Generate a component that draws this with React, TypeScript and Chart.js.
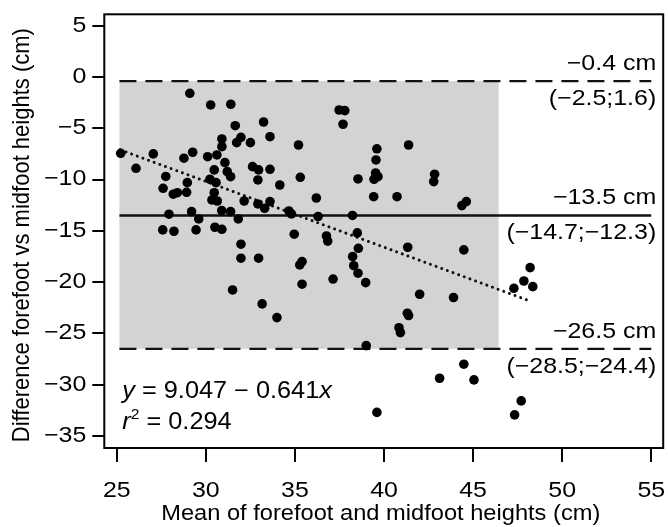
import React, { useEffect, useRef } from "react";
import { Chart, registerables } from "chart.js";

Chart.register(...registerables);

// ---- data ----
const meanX = [
  25.22, 26.08, 27.05, 27.75, 27.6, 28.17, 28.4, 28.92, 28.96, 28.77,
  29.26, 29.1, 30.27, 31.4, 31.65, 30.9, 31.97, 31.73, 30.9, 30.62,
  30.1, 32.5, 33.24, 33.6, 35.2, 31.07, 31.2, 31.39, 30.47, 30.23,
  30.57, 30.47, 30.34, 30.64, 32.62, 32.96, 32.92, 33.6, 34.15, 35.3,
  32.15, 32.92, 33.3, 33.6, 34.66, 34.8, 36.2, 36.3, 38.23, 38.54,
  37.48, 37.8, 37.7, 39.6, 39.55, 39.53, 39.66, 39.44, 39.42, 27.93,
  29.2, 29.6, 30.89, 31.39, 31.82, 27.58, 28.21, 29.45, 30.51, 30.9,
  31.97, 31.97, 32.96, 31.5, 33.16, 33.99, 34.96, 35.4, 35.27, 35.4,
  36.77, 36.84, 37.14, 38.5, 38.56, 38.24, 38.3, 38.54, 38.97, 39.0,
  39.6, 40.73, 41.38, 42.84, 42.79, 44.37, 44.62, 41.33, 44.48, 42.0,
  43.9, 41.31, 41.38, 40.84, 40.92, 44.48, 43.12, 45.05, 47.7, 47.33,
  47.29, 47.85, 48.2, 48.35,
];
const diffY = [
  -7.44, -8.9, -7.5, -9.7, -10.85, -11.43, -11.28, -11.24, -10.3, -7.92,
  -7.34, -1.59, -2.73, -2.66, -4.75, -6.04, -5.88, -6.4, -6.8, -7.6,
  -7.77, -6.4, -4.39, -5.82, -6.63, -8.35, -9.23, -9.72, -9.06, -9.97,
  -10.3, -11.28, -11.99, -12.09, -8.74, -9.06, -10.04, -9.0, -10.53, -9.78,
  -12.09, -12.38, -12.8, -12.15, -13.06, -13.35, -11.8, -13.6, -13.5, -9.94,
  -3.22, -3.28, -4.61, -7.0, -8.09, -9.36, -9.72, -9.97, -11.67, -13.38,
  -13.13, -13.84, -13.03, -13.13, -13.84, -14.91, -15.04, -14.91, -14.65, -14.85,
  -16.3, -17.67, -17.67, -20.76, -22.12, -23.46, -15.33, -18.0, -18.32, -20.2,
  -15.5, -16.0, -19.7, -15.2, -16.7, -17.51, -18.4, -19.13, -20.05, -26.19,
  -32.7, -11.67, -6.63, -9.48, -10.2, -12.54, -12.15, -16.6, -16.86, -21.18,
  -21.5, -23.03, -23.26, -24.44, -24.92, -28.0, -29.37, -29.53, -31.58, -32.94,
  -20.6, -19.89, -18.59, -20.44,
];

const limitValues = [-0.4, -13.5, -26.5]; // upper LoA, mean bias, lower LoA
const limitLabels = ["\u22120.4 cm", "\u221213.5 cm", "\u221226.5 cm"];
const ciLabels = ["(\u22122.5;1.6)", "(\u221214.7;\u221212.3)", "(\u221228.5;\u221224.4)"];
const bandRange = [25.15, 46.43];
const lineRange = [25.15, 55];
const regIntercept = 9.047;
const regSlope = -0.641;
const regRange = [25.2, 48.3];
const xTicks = [25, 30, 35, 40, 45, 50, 55];
const yTicks = [5, 0, -5, -10, -15, -20, -25, -30, -35];
const xRange = [24.3, 55.67];
const yRange = [-36.17, 6.11];
const xTitle = "Mean of forefoot and midfoot heights (cm)";
const yTitle = "Difference forefoot vs midfoot heights (cm)";

const FONT = '"Liberation Sans", Arial, Helvetica, sans-serif';
const FS = 21.5;
const SX = 1.16;

function fmt(v: number) {
  return v < 0 ? "\u2212" + Math.abs(v) : String(v);
}

function sText(ctx: CanvasRenderingContext2D, text: string, x: number, y: number, align: CanvasTextAlign, size: number, sx: number, italic = false) {
  ctx.save();
  ctx.translate(x, y);
  ctx.scale(sx, 1);
  ctx.font = `${italic ? "italic " : ""}${size}px ${FONT}`;
  ctx.textAlign = align;
  ctx.textBaseline = "middle";
  ctx.fillStyle = "#000";
  ctx.fillText(text, 0, 0);
  ctx.restore();
}

function segText(ctx: CanvasRenderingContext2D, segs: { t: string; it?: boolean; sup?: boolean }[], x: number, y: number, size: number, sx: number) {
  let cx = x;
  for (const s of segs) {
    const sz = s.sup ? size * 0.62 : size;
    const yy = s.sup ? y - size * 0.33 : y;
    ctx.save();
    ctx.font = `${s.it ? "italic " : ""}${sz}px ${FONT}`;
    const w = ctx.measureText(s.t).width * sx;
    ctx.restore();
    sText(ctx, s.t, cx, yy, "left", sz, sx, !!s.it);
    cx += w;
  }
}

const bandPlugin = {
  id: "band",
  beforeDatasetsDraw(chart: any) {
    const { ctx, scales } = chart;
    const x = scales.x, y = scales.y;
    const l = x.getPixelForValue(bandRange[0]);
    const r = x.getPixelForValue(bandRange[1]);
    const t = y.getPixelForValue(limitValues[0]);
    const b = y.getPixelForValue(limitValues[2]);
    ctx.save();
    ctx.fillStyle = "#d3d3d3";
    ctx.fillRect(l, t, r - l, b - t);
    ctx.restore();
  },
};

const textPlugin = {
  id: "texts",
  afterDraw(chart: any) {
    const { ctx, scales, chartArea } = chart;
    const x = scales.x, y = scales.y;
    ctx.save();
    // frame
    ctx.strokeStyle = "#000";
    ctx.lineWidth = 2;
    ctx.strokeRect(chartArea.left, chartArea.top, chartArea.right - chartArea.left, chartArea.bottom - chartArea.top);
    // tick labels
    for (const v of yTicks) {
      sText(ctx, fmt(v), chartArea.left - 18, y.getPixelForValue(v), "right", FS, SX);
    }
    for (const v of xTicks) {
      sText(ctx, fmt(v), x.getPixelForValue(v), chartArea.bottom + 43, "center", FS, SX);
    }
    // axis titles
    sText(ctx, xTitle, (chartArea.left + chartArea.right) / 2 - 3, chartArea.bottom + 66, "center", 21.5, 1.1);
    ctx.save();
    ctx.translate(22, (chartArea.top + chartArea.bottom) / 2 + 4);
    ctx.rotate(-Math.PI / 2);
    ctx.scale(1, 1.08);
    ctx.font = `22px ${FONT}`;
    ctx.textAlign = "center";
    ctx.textBaseline = "middle";
    ctx.fillStyle = "#000";
    ctx.fillText(yTitle, 0, 0);
    ctx.restore();
    // limit labels
    const rx = chartArea.right - 7;
    limitValues.forEach((v, i) => {
      const py = y.getPixelForValue(v);
      sText(ctx, limitLabels[i], rx, py - 17, "right", FS, SX);
      sText(ctx, ciLabels[i], rx, py + 18, "right", FS, SX);
    });
    // regression equation
    const ex = chartArea.left + 18;
    segText(ctx, [{ t: "y", it: true }, { t: " = 9.047 \u2212 0.641" }, { t: "x", it: true }], ex, chartArea.bottom - 56, 23, 1.1);
    segText(ctx, [{ t: "r", it: true }, { t: "2", sup: true }, { t: " = 0.294" }], ex, chartArea.bottom - 25, 23, 1.1);
    ctx.restore();
  },
};

export default function App() {
  const ref = useRef<HTMLCanvasElement | null>(null);
  useEffect(() => {
    if (!ref.current) return;
    const points = meanX.map((v, i) => ({ x: v, y: diffY[i] }));
    const limitDs = limitValues.map((v, i) => ({
      type: "scatter" as const,
      data: [{ x: lineRange[0], y: v }, { x: lineRange[1], y: v }],
      showLine: true,
      borderColor: "#111",
      borderWidth: i === 1 ? 2.5 : 2.2,
      borderDash: i === 1 ? [] : [17, 9],
      pointRadius: 0,
      order: 2,
    }));
    const chart = new Chart(ref.current, {
      type: "scatter",
      data: {
        datasets: [
          {
            data: points,
            backgroundColor: "#000",
            borderColor: "#000",
            pointRadius: 4.8,
            pointBorderWidth: 0,
            order: 0,
          },
          {
            data: regRange.map((v) => ({ x: v, y: regIntercept + regSlope * v })),
            showLine: true,
            borderColor: "#111",
            borderWidth: 3,
            borderDash: [0.01, 6],
            borderCapStyle: "round",
            pointRadius: 0,
            order: 1,
          } as any,
          ...limitDs,
        ],
      },
      options: {
        animation: false,
        responsive: true,
        maintainAspectRatio: false,
        layout: { padding: { left: 92.3, top: 14.3, right: 4, bottom: 65 } },
        plugins: { legend: { display: false }, tooltip: { enabled: false } },
        scales: {
          x: {
            type: "linear",
            min: xRange[0],
            max: xRange[1],
            afterBuildTicks: (axis: any) => {
              axis.ticks = xTicks.map((v) => ({ value: v }));
            },
            ticks: { display: false },
            border: { display: false },
            grid: { drawOnChartArea: false, drawTicks: true, tickLength: 14, color: "#000", lineWidth: 2 },
          },
          y: {
            type: "linear",
            min: yRange[0],
            max: yRange[1],
            afterBuildTicks: (axis: any) => {
              axis.ticks = yTicks.map((v) => ({ value: v }));
            },
            ticks: { display: false },
            border: { display: false },
            grid: { drawOnChartArea: false, drawTicks: true, tickLength: 12, color: "#000", lineWidth: 2 },
          },
        },
      },
      plugins: [bandPlugin, textPlugin],
    });
    return () => chart.destroy();
  }, []);
  return (
    <div style={{ position: "fixed", left: 0, top: 0, width: 668, height: 527, background: "#fff" }}>
      <canvas ref={ref} />
    </div>
  );
}
